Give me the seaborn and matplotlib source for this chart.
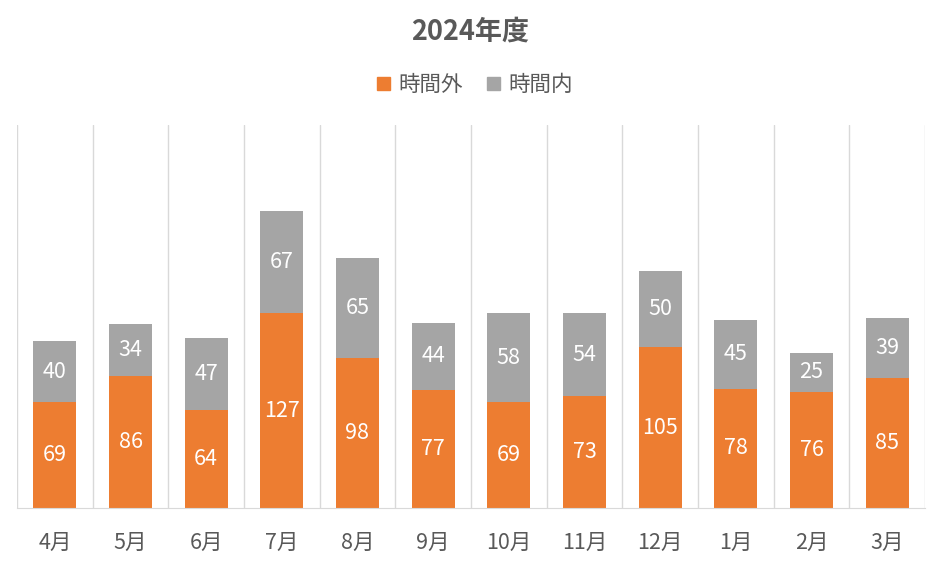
import matplotlib
matplotlib.use('Agg')
import matplotlib.pyplot as plt
import seaborn as sb
import pandas as pd
from matplotlib.patches import Patch

MONTHS = ['4月', '5月', '6月', '7月', '8月', '9月', '10月', '11月', '12月', '1月', '2月', '3月']
OVERTIME = [69, 86, 64, 127, 98, 77, 69, 73, 105, 78, 76, 85]   # 時間外
REGULAR = [40, 34, 47, 67, 65, 44, 58, 54, 50, 45, 25, 39]      # 時間内

ORANGE = '#ED7D31'
GRAY = '#A5A5A5'
TEXT = '#595959'

sb.set_style('white')
plt.rcParams['font.family'] = ['Noto Sans CJK JP', 'DejaVu Sans']

df = pd.DataFrame({'month': MONTHS, 'out': OVERTIME, 'in': REGULAR})
df['total'] = df['out'] + df['in']

fig = plt.figure(figsize=(9.41, 5.64), dpi=100)
ax = fig.add_axes([17 / 941, 56 / 564, 908 / 941, 383 / 564])

# stacked: totals in gray first, then the orange part over it
sb.barplot(data=df, x='month', y='total', color=GRAY, width=0.57, saturation=1,
           linewidth=0, edgecolor='none', ax=ax)
sb.barplot(data=df, x='month', y='out', color=ORANGE, width=0.57, saturation=1,
           linewidth=0, edgecolor='none', ax=ax)

for i, row in df.iterrows():
    ax.text(i, row['out'] / 2, str(row['out']), ha='center', va='center',
            color='white', fontsize=15.5)
    ax.text(i, row['out'] + row['in'] / 2, str(row['in']), ha='center', va='center',
            color='white', fontsize=15.5)

ax.set_ylim(0, 250)
ax.set_xlim(-0.5, len(MONTHS) - 0.5)
ax.set_xticks([i - 0.5 for i in range(len(MONTHS) + 1)], minor=True)
ax.grid(which='minor', axis='x', color='#D9D9D9', linewidth=1)
ax.tick_params(which='both', length=0)
ax.tick_params(axis='x', pad=17, labelsize=15.5, labelcolor=TEXT)
ax.set_yticks([])
ax.set_xlabel('')
ax.set_ylabel('')
for s in ['top', 'left', 'right']:
    ax.spines[s].set_visible(False)
ax.spines['bottom'].set_color('#D9D9D9')

fig.text(0.5, 1 - 32 / 564, '2024年度', ha='center', va='center',
         fontsize=19.5, fontweight='bold', color=TEXT)

handles = [Patch(color=ORANGE, label='時間外'), Patch(color=GRAY, label='時間内')]
fig.legend(handles=handles, loc='center', bbox_to_anchor=(0.505, 1 - 85 / 564), ncol=2,
           frameon=False, fontsize=15.5, labelcolor=TEXT, handlelength=0.6, handleheight=0.6,
           handletextpad=0.4, columnspacing=1.1)

plt.savefig('out.png', dpi=100)
plt.close()
